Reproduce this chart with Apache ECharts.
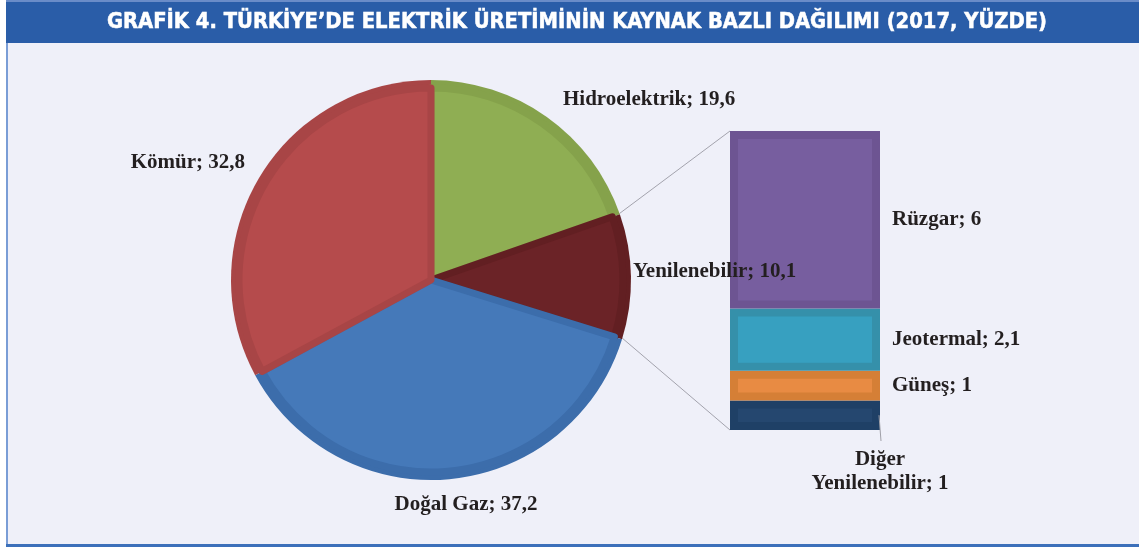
<!DOCTYPE html>
<html>
<head>
<meta charset="utf-8">
<script src="https://cdn.jsdelivr.net/npm/echarts@6/dist/echarts.min.js"></script>
<style>
  html, body { margin: 0; padding: 0; background: #fff; }
  #chart { width: 1139px; height: 547px; }
</style>
</head>
<body>
<div id="chart"></div>
<script>
const titleText = 'GRAFİK 4. TÜRKİYE’DE ELEKTRİK ÜRETİMİNİN KAYNAK BAZLI DAĞILIMI (2017, YÜZDE)'

// main pie (clockwise from 12 o'clock)
const sources = ['Hidroelektrik', 'Yenilenebilir', 'Doğal Gaz', 'Kömür']
const shares = [19.6, 10.1, 37.2, 32.8]

// breakdown of "Yenilenebilir", bottom to top
const renewables = ['Diğer Yenilenebilir', 'Güneş', 'Jeotermal', 'Rüzgar']
const renewableShares = [1, 1, 2.1, 6]

const pieFill = ['#8fae53', '#6b2327', '#4579b9', '#b54b4c']
const pieEdge = ['#85a24b', '#621f22', '#3c6dab', '#a84546']
const barFill = ['#25476f', '#e88b43', '#37a0c0', '#775e9f']
const barEdge = ['#1f4066', '#d57f36', '#3590aa', '#6d5492']

const PIE_CX = 431
const PIE_CY = 280
const PIE_R = 200
const BAR = { left: 730, top: 131, width: 150, height: 299 }
const LABEL_FONT = 'Liberation Serif'
const LABEL_SIZE = 21
const LABEL_COLOR = '#231f20'
const TITLE_FONT = 'bold 21px "DejaVu Sans Condensed", "DejaVu Sans", sans-serif'
const TITLE_LEFT = 107
const TITLE_WIDTH = 940

// label anchors for the pie slices
const pieLabelPos = [
  { x: 563, y: 100, align: 'left' },
  { x: 633, y: 272, align: 'left' },
  { x: 466, y: 505, align: 'center' },
  { x: 245, y: 163, align: 'right' }
]

const fmt = v => String(v).replace('.', ',')

const renewTotal = renewableShares.reduce((a, b) => a + b, 0)
let acc = 0
const stackData = renewableShares.map((v, i) => {
  const row = [0, acc, acc + v, v, i]
  acc += v
  return row
})

// fit the title to the width it has in the original
const ctx = document.createElement('canvas').getContext('2d')
ctx.font = TITLE_FONT
const titleScale = TITLE_WIDTH / ctx.measureText(titleText).width

const chart = echarts.init(document.getElementById('chart'))

function renderSegment (params, api) {
  const i = params.dataIndex
  const start = api.value(1)
  const end = api.value(2)
  const top = api.coord([0, end])
  const bottom = api.coord([0, start])
  const w = api.size([1, 0])[0]
  const x = top[0] - w / 2
  const y = top[1]
  const h = bottom[1] - top[1]
  const inset = 8
  const children = [
    { type: 'rect', shape: { x, y, width: w, height: h }, style: { fill: barEdge[i] } },
    {
      type: 'rect',
      shape: { x: x + inset, y: y + inset, width: w - 2 * inset, height: Math.max(h - 2 * inset, 1) },
      style: { fill: barFill[i] }
    }
  ]
  const font = `bold ${LABEL_SIZE}px "${LABEL_FONT}"`
  if (i === 0) {
    children.push({
      type: 'line',
      shape: { x1: x + w - 1, y1: y + h / 2, x2: x + w + 1, y2: y + h + 11 },
      style: { stroke: '#a0a0a8', lineWidth: 1 }
    })
    children.push({
      type: 'text',
      style: {
        text: 'Diğer\nYenilenebilir; ' + fmt(api.value(3)),
        x: x + w,
        y: y + h + 18,
        align: 'center',
        verticalAlign: 'top',
        font,
        lineHeight: 24,
        fill: LABEL_COLOR
      }
    })
  } else {
    children.push({
      type: 'text',
      style: {
        text: renewables[i] + '; ' + fmt(api.value(3)),
        x: x + w + 12,
        y: y + h / 2,
        align: 'left',
        verticalAlign: 'middle',
        font,
        fill: LABEL_COLOR
      }
    })
  }
  return { type: 'group', children }
}

const pieBase = {
  type: 'pie',
  center: [PIE_CX, PIE_CY],
  startAngle: 90,
  clockwise: true,
  avoidLabelOverlap: false,
  emphasis: { disabled: true }
}

const option = {
  backgroundColor: '#fff',
  animation: false,
  graphic: [
    { type: 'rect', z: -10, shape: { x: 6, y: 1, width: 1133, height: 546 }, style: { fill: '#eff0f9' } },
    { type: 'rect', z: -9, shape: { x: 6, y: 1, width: 1133, height: 42 }, style: { fill: '#2a5da8' } },
    { type: 'rect', z: -9, shape: { x: 6, y: 0, width: 1133, height: 2 }, style: { fill: '#6a8cc8' } },
    { type: 'rect', z: -9, shape: { x: 6, y: 43, width: 2, height: 504 }, style: { fill: '#7a9dd6' } },
    { type: 'rect', z: -9, shape: { x: 6, y: 544, width: 1133, height: 3 }, style: { fill: '#3c70ba' } },
    {
      type: 'text',
      z: 10,
      x: TITLE_LEFT,
      scaleX: titleScale,
      style: {
        text: titleText,
        x: 0,
        y: 23,
        align: 'left',
        verticalAlign: 'middle',
        font: TITLE_FONT,
        fill: '#fff',
        stroke: '#fff',
        lineWidth: 0.5
      }
    }
  ],
  grid: { left: BAR.left, top: BAR.top, width: BAR.width, height: BAR.height },
  xAxis: { type: 'category', data: ['Yenilenebilir'], show: false },
  yAxis: { type: 'value', min: 0, max: renewTotal, show: false },
  series: [
    // outer ring in the darker edge colour, carries the labels
    Object.assign({}, pieBase, {
      radius: PIE_R,
      data: sources.map((name, i) => ({
        name,
        value: shares[i],
        itemStyle: { color: pieEdge[i] }
      })),
      label: {
        show: true,
        position: 'outside',
        formatter: p => p.name + '; ' + fmt(p.value),
        fontFamily: LABEL_FONT,
        fontWeight: 'bold',
        fontSize: LABEL_SIZE,
        color: LABEL_COLOR
      },
      labelLine: { show: false },
      labelLayout: p => ({
        x: pieLabelPos[p.dataIndex].x,
        y: pieLabelPos[p.dataIndex].y,
        align: pieLabelPos[p.dataIndex].align,
        verticalAlign: 'middle'
      })
    }),
    // lighter face on top, edges drawn in the edge colour
    Object.assign({}, pieBase, {
      radius: PIE_R - 8,
      silent: true,
      data: sources.map((name, i) => ({
        name,
        value: shares[i],
        itemStyle: { color: pieFill[i], borderColor: pieEdge[i] }
      })),
      itemStyle: { borderWidth: 7, borderJoin: 'round' },
      label: { show: false },
      labelLine: { show: false }
    }),
    {
      type: 'custom',
      renderItem: renderSegment,
      data: stackData,
      encode: { x: 0, y: [1, 2] },
      silent: true
    }
  ]
}

chart.setOption(option)

// connector lines from the "Yenilenebilir" slice edges to the stacked bar
const a1 = (90 - 360 * shares[0] / 100) * Math.PI / 180
const a2 = (90 - 360 * (shares[0] + shares[1]) / 100) * Math.PI / 180
const barTop = chart.convertToPixel({ xAxisIndex: 0, yAxisIndex: 0 }, [0, renewTotal])
const barBottom = chart.convertToPixel({ xAxisIndex: 0, yAxisIndex: 0 }, [0, 0])
const barLeft = barTop[0] - BAR.width / 2
const connectors = [
  [PIE_CX + PIE_R * Math.cos(a1), PIE_CY - PIE_R * Math.sin(a1), barLeft, barTop[1]],
  [PIE_CX + PIE_R * Math.cos(a2), PIE_CY - PIE_R * Math.sin(a2), barLeft, barBottom[1]]
]
chart.setOption({
  graphic: option.graphic.concat(connectors.map(c => ({
    type: 'line',
    z: -5,
    shape: { x1: c[0], y1: c[1], x2: c[2], y2: c[3] },
    style: { stroke: '#a3a3ad', lineWidth: 1 }
  })))
})
</script>
</body>
</html>
